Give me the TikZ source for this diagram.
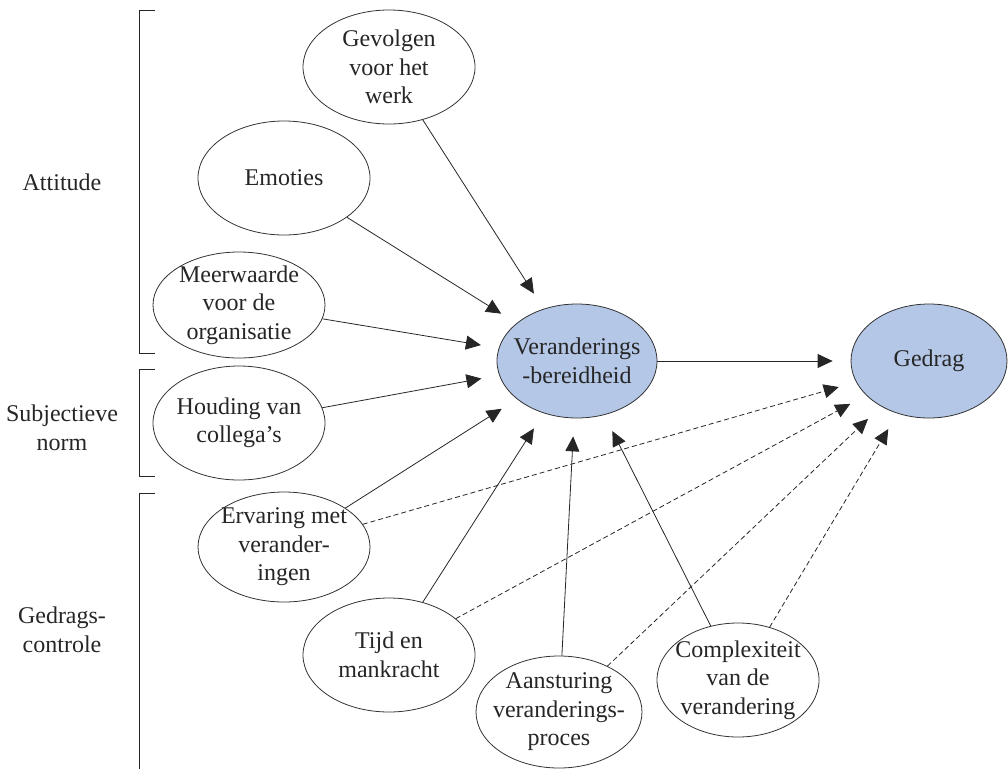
\documentclass[tikz,border=0pt]{standalone}
\usepackage{fontspec}
\setmainfont{Liberation Serif}
\usetikzlibrary{positioning, shapes.geometric, arrows.meta}
\definecolor{kernblauw}{RGB}{180,199,231}

\begin{document}
\begin{tikzpicture}[x=1pt, y=1pt,
  every node/.style={font=\fontsize{24}{28.5}\selectfont, align=center, text=black!85},
  factor/.style={draw=black!80, line width=0.8pt, ellipse, inner sep=-20pt, fill=white},
  kern/.style={factor, fill=kernblauw},
  pijl/.style={-{Triangle[length=15pt,width=14pt]}, line width=0.8pt, draw=black!85, shorten >=18pt},
  stippelpijl/.style={pijl, dash pattern=on 5pt off 3pt},
  haak/.style={line width=0.8pt, draw=black!85}]
  \useasboundingbox (0,0) rectangle (1008,-769);

  % kernbegrippen
  \node[kern, minimum width=160pt, minimum height=114pt] (bereid) at (577,-361) {Veranderings\\-bereidheid};
  \node[kern, minimum width=156pt, minimum height=114pt] (gedrag) at (929,-361) {Gedrag};

  % factoren
  \node[factor, minimum width=172pt, minimum height=114pt] (gevolgen) at (389,-67) {Gevolgen\\voor het\\werk};
  \node[factor, minimum width=172pt, minimum height=114pt] (emoties) at (284,-178) {Emoties};
  \node[factor, minimum width=172pt, minimum height=106pt] (meerwaarde) at (239,-305) {Meerwaarde\\voor de\\organisatie};
  \node[factor, minimum width=172pt, minimum height=114pt] (houding) at (239,-423) {Houding van\\collega’s};
  \node[factor, minimum width=172pt, minimum height=110pt] (ervaring) at (284,-547) {Ervaring met\\verander-\\ingen};
  \node[factor, minimum width=172pt, minimum height=114pt] (tijd) at (389,-655) {Tijd en\\mankracht};
  \node[factor, minimum width=166pt, minimum height=112pt] (aansturing) at (559,-712) {Aansturing\\veranderings-\\proces};
  \node[factor, minimum width=162pt, minimum height=114pt] (complex) at (738,-680) {Complexiteit\\van de\\verandering};

  % groepen
  \node (attitude) at (62,-182) {Attitude};
  \node (norm) at (62,-428) {Subjectieve\\norm};
  \node (controle) at (62,-630) {Gedrags-\\controle};
  \draw[haak] (155,-10) -- (139,-10) -- (139,-353) -- (155,-353);
  \draw[haak] (155,-369) -- (139,-369) -- (139,-476) -- (155,-476);
  \draw[haak] (155,-493) -- (139,-493) -- (139,-769);

  % pijlen
  \draw[pijl] (gevolgen) -- (bereid);
  \draw[pijl] (emoties) -- (bereid);
  \draw[pijl] (meerwaarde) -- (bereid);
  \draw[pijl] (houding) -- (bereid);
  \draw[pijl] (ervaring) -- (bereid);
  \draw[pijl] (tijd) -- (bereid);
  \draw[pijl] (aansturing) -- (bereid);
  \draw[pijl] (complex) -- (bereid);
  \draw[pijl] (bereid) -- (gedrag);
  \draw[stippelpijl] (ervaring) -- (gedrag);
  \draw[stippelpijl] (tijd) -- (gedrag);
  \draw[stippelpijl] (aansturing) -- (gedrag);
  \draw[stippelpijl] (complex) -- (gedrag);
\end{tikzpicture}
\end{document}
